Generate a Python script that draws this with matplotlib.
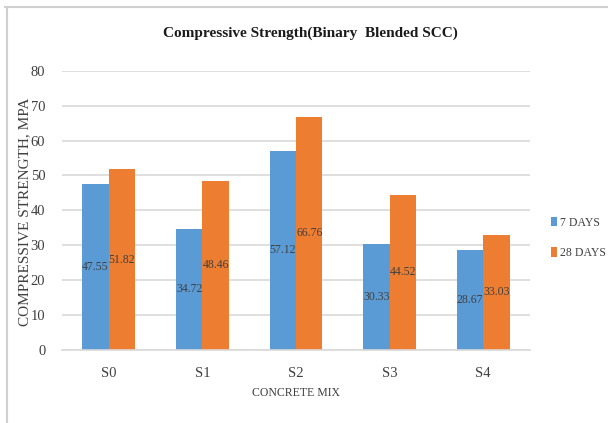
import numpy as np
import matplotlib.pyplot as plt
from matplotlib.lines import Line2D

mixes = ['S0', 'S1', 'S2', 'S3', 'S4']
days7 = [47.55, 34.72, 57.12, 30.33, 28.67]
days28 = [51.82, 48.46, 66.76, 44.52, 33.03]
series_names = ['7 DAYS', '28 DAYS']
yticks = [0, 10, 20, 30, 40, 50, 60, 70, 80]

plt.rcParams['font.family'] = ['Liberation Serif', 'DejaVu Serif']

W, H = 608, 423
fig = plt.figure(figsize=(W / 100, H / 100), dpi=100)
# axes box in pixels: left 62, right 530, top 70.7, bottom 350
ax = fig.add_axes([62 / W, 1 - 350 / H, (530 - 62) / W, (350 - 70.7) / H])

x = np.arange(len(mixes))
bw = 0.283
blue = '#5B9BD5'
orange = '#ED7D31'
b1 = ax.bar(x - bw / 2, days7, bw, color=blue, label=series_names[0], zorder=2)
b2 = ax.bar(x + bw / 2, days28, bw, color=orange, label=series_names[1], zorder=2)

# data labels at the middle of each bar
for bars, vals in ((b1, days7), (b2, days28)):
    for rect, v in zip(bars, vals):
        ax.text(rect.get_x() + rect.get_width() / 2, v / 2, f'{v:.2f}',
                ha='center', va='center', fontsize=8.5, color='#404040', zorder=3)

ax.set_xlim(-0.5, len(mixes) - 0.5)
ax.set_ylim(0, 80)
ax.set_yticks(yticks)
ax.set_xticks(x)
ax.set_xticklabels(mixes)
ax.grid(axis='y', color='#D9D9D9', lw=1.2, zorder=0)
ax.set_axisbelow(True)
for s in ['top', 'right', 'left']:
    ax.spines[s].set_visible(False)
ax.spines['bottom'].set_color('#D9D9D9')
ax.spines['bottom'].set_linewidth(1.2)
ax.tick_params(axis='both', length=0, labelsize=10.5, colors='#404040')
ax.tick_params(axis='x', pad=12)
ax.tick_params(axis='y', pad=12)

fig.text(296 / W, 1 - 393 / H, 'CONCRETE MIX', ha='center', va='center',
         fontsize=8.5, color='#404040')
fig.text(25 / W, 1 - 212 / H, 'COMPRESSIVE STRENGTH, MPA', ha='center', va='center',
         rotation=90, fontsize=11, color='#404040')

fig.text(310 / W, 1 - 33 / H, 'Compressive Strength(Binary  Blended SCC)',
         ha='center', va='center', fontsize=11, fontweight='bold', color='#1a1a1a')

ax.legend(loc='center left', bbox_to_anchor=(540 / W, 1 - 238 / H),
          bbox_transform=fig.transFigure, frameon=False, fontsize=8.5,
          handlelength=0.5, handleheight=0.9, handletextpad=0.3,
          labelspacing=1.6, labelcolor='#404040')

# outer frame lines (top and left only)
fig.add_artist(Line2D([5 / W, 1], [1 - 7.5 / H, 1 - 7.5 / H], color='#D0D0D0', lw=1.5, transform=fig.transFigure))
fig.add_artist(Line2D([7 / W, 7 / W], [0, 1 - 7.5 / H], color='#D0D0D0', lw=1.5, transform=fig.transFigure))

fig.savefig('out.png', dpi=100)
